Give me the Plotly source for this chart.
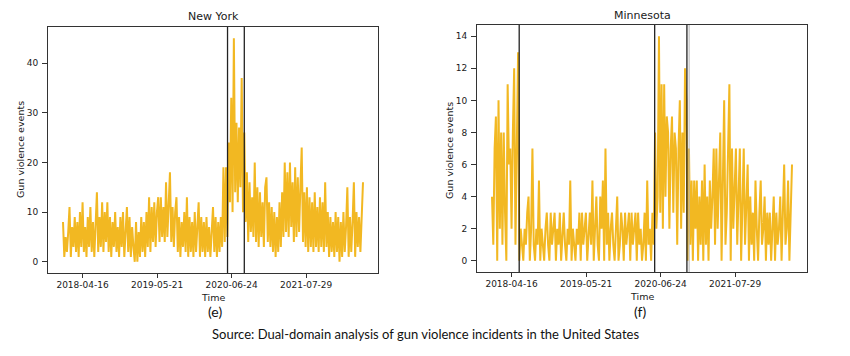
import pandas as pd
import plotly.graph_objects as go

# ---------------- data (weekly readings from the picture) ----------------
start_date = "2018-01-01"
step_days = 7

ny_values = [
    8, 1, 5, 2, 6, 11, 1, 7, 3, 9,
    2, 8, 1, 10, 3, 12, 2, 7, 1, 9,
    3, 11, 2, 8, 1, 10, 14, 2, 9, 3,
    12, 2, 10, 4, 12, 2, 9, 1, 8, 3,
    10, 2, 7, 1, 9, 3, 10, 1, 8, 11,
    2, 9, 1, 7, 3, 0, 8, 0, 6, 1,
    9, 2, 8, 1, 10, 3, 13, 2, 11, 4,
    12, 3, 10, 13, 4, 13, 5, 11, 4, 16,
    5, 12, 18, 4, 11, 3, 10, 13, 2, 9,
    1, 8, 3, 10, 2, 13, 1, 9, 2, 8,
    1, 10, 2, 7, 12, 1, 9, 2, 8, 1,
    9, 2, 7, 1, 8, 11, 2, 9, 1, 8,
    2, 9, 3, 19, 4, 19, 5, 24, 12, 33,
    10, 45, 14, 28, 12, 27, 15, 37, 10, 26,
    8, 18, 4, 16, 6, 13, 5, 20, 4, 15,
    3, 14, 5, 12, 3, 15, 17, 4, 12, 3,
    11, 2, 10, 1, 9, 2, 12, 3, 14, 5,
    20, 6, 18, 5, 20, 7, 16, 4, 19, 5,
    17, 6, 15, 23, 4, 14, 3, 15, 2, 13,
    3, 12, 2, 14, 3, 11, 2, 13, 3, 12,
    2, 16, 3, 10, 1, 9, 2, 8, 1, 10,
    2, 9, 0, 8, 1, 10, 2, 7, 15, 1,
    9, 2, 8, 16, 1, 10, 3, 9, 2, 8,
    16,
]

mn_values = [
    4, 1, 7, 9, 0, 10, 2, 8, 1, 8,
    3, 0, 11, 6, 7, 2, 8, 12, 1, 7,
    13, 0, 2, 1, 0, 2, 1, 3, 4, 0,
    2, 7, 1, 0, 2, 1, 5, 0, 2, 1,
    0, 2, 3, 1, 0, 3, 1, 2, 3, 0,
    2, 1, 3, 0, 2, 3, 1, 0, 2, 1,
    5, 0, 2, 1, 0, 2, 1, 3, 0, 3,
    1, 2, 3, 0, 2, 3, 1, 5, 0, 2,
    4, 1, 0, 4, 2, 5, 0, 7, 1, 3,
    0, 2, 3, 1, 0, 2, 4, 0, 1, 3,
    2, 0, 3, 1, 2, 3, 0, 3, 1, 2,
    3, 0, 3, 1, 2, 0, 1, 3, 0, 5,
    1, 2, 0, 3, 1, 8, 2, 4, 14, 3,
    11, 2, 11, 4, 9, 8, 2, 7, 9, 3,
    8, 7, 1, 7, 10, 2, 8, 3, 12, 10,
    0, 7, 1, 5, 0, 5, 2, 5, 0, 4,
    1, 5, 0, 6, 1, 4, 0, 5, 2, 4,
    7, 1, 7, 2, 6, 8, 0, 4, 10, 1,
    3, 7, 11, 0, 7, 2, 4, 7, 1, 5,
    7, 0, 4, 7, 1, 3, 6, 0, 4, 1,
    3, 0, 5, 2, 0, 3, 5, 1, 2, 4,
    0, 3, 1, 3, 0, 2, 4, 0, 3, 1,
    2, 4, 0, 3, 6, 1, 2, 5, 0, 3,
    6,
]

ny_change_points = ["2020-06-02", "2020-08-31"]
mn_change_points = ["2018-05-27", "2020-05-23", "2020-11-12"]
mn_grey_points = ["2020-11-24"]

x_tick_vals = ["2018-04-16", "2019-05-21", "2020-06-24", "2021-07-29"]
x_tick_text = ["2018-04-16", "2019-05-21", "2020-06-24", "2021-07-29"]
ny_y_ticks = [0, 10, 20, 30, 40]
mn_y_ticks = [0, 2, 4, 6, 8, 10, 12, 14]

panel_titles = ["New York", "Minnesota"]
panel_letters = ["(e)", "(f)"]
source_text = "Source: Dual-domain analysis of gun violence incidents in the United States"

# ---------------- figure ----------------
W, H = 850, 356
LINE = "#F2B822"
FONT = "DejaVu Sans"

ny_dates = pd.date_range(start_date, periods=len(ny_values), freq=f"{step_days}D")
mn_dates = pd.date_range(start_date, periods=len(mn_values), freq=f"{step_days}D")


def padded(dates, frac=0.05):
    span = dates[-1] - dates[0]
    return [dates[0] - span * frac, dates[-1] + span * frac]


def ypad(vals, frac=0.05):
    lo, hi = min(vals), max(vals)
    span = hi - lo
    return [lo - span * frac, hi + span * frac]


fig = go.Figure()
fig.add_trace(go.Scatter(x=ny_dates, y=ny_values, mode="lines",
                         line=dict(color=LINE, width=2.0), xaxis="x", yaxis="y",
                         showlegend=False, hoverinfo="skip"))
fig.add_trace(go.Scatter(x=mn_dates, y=mn_values, mode="lines",
                         line=dict(color=LINE, width=2.0), xaxis="x2", yaxis="y2",
                         showlegend=False, hoverinfo="skip"))


def px_x(p):
    return p / W


def px_y(p):
    return 1 - p / H


axis_common = dict(showgrid=False, zeroline=False, showline=True, mirror=True,
                   linecolor="#333333", linewidth=1, ticks="outside",
                   tickwidth=0.8, tickcolor="#333333",
                   tickfont=dict(family=FONT, size=9, color="#1a1a1a"))
x_common = dict(ticklen=3.5, ticklabelstandoff=0, **axis_common)
y_common = dict(ticklen=5, ticklabelstandoff=2, **axis_common)

fig.update_layout(
    width=W, height=H, margin=dict(l=0, r=0, t=0, b=0),
    paper_bgcolor="white", plot_bgcolor="white",
    xaxis=dict(domain=[px_x(48), px_x(378)], range=padded(ny_dates), type="date",
               tickvals=x_tick_vals, ticktext=x_tick_text, anchor="y", **x_common),
    yaxis=dict(domain=[px_y(273), px_y(27)], range=ypad(ny_values),
               tickvals=ny_y_ticks, anchor="x", **y_common),
    xaxis2=dict(domain=[px_x(477), px_x(807)], range=padded(mn_dates), type="date",
                tickvals=x_tick_vals, ticktext=x_tick_text, anchor="y2", **x_common),
    yaxis2=dict(domain=[px_y(272), px_y(25)], range=ypad(mn_values),
                tickvals=mn_y_ticks, anchor="x2", **y_common),
)

shapes = []
for d in ny_change_points:
    shapes.append(dict(type="line", xref="x", yref="y domain", x0=d, x1=d, y0=0, y1=1,
                       line=dict(color="#222222", width=1.3)))
for d in mn_change_points:
    shapes.append(dict(type="line", xref="x2", yref="y2 domain", x0=d, x1=d, y0=0, y1=1,
                       line=dict(color="#222222", width=1.3)))
for d in mn_grey_points:
    shapes.append(dict(type="line", xref="x2", yref="y2 domain", x0=d, x1=d, y0=0, y1=1,
                       line=dict(color="#b5b5b5", width=1)))
fig.update_layout(shapes=shapes)

ann = []


def text(xp, yp, s, size, family=FONT, angle=0, color="#1a1a1a"):
    ann.append(dict(xref="paper", yref="paper", x=px_x(xp), y=px_y(yp), text=s,
                    showarrow=False, xanchor="center", yanchor="middle", textangle=angle,
                    font=dict(family=family, size=size, color=color)))


text(213, 16, panel_titles[0], 11)
text(642, 15, panel_titles[1], 11)
text(213, 297, "Time", 9.5)
text(642, 296, "Time", 9.5)
text(20, 150, "Gun violence events", 9.5, angle=-90)
text(449, 150, "Gun violence events", 9.5, angle=-90)
text(215, 311, panel_letters[0], 14, family="Lato", color="#111111")
text(640, 311, panel_letters[1], 14, family="Lato", color="#111111")
text(425, 334, source_text, 13, family="Lato", color="#111111")
fig.update_layout(annotations=ann)

fig.write_html("out.html", config={"displayModeBar": False},
               post_script="document.body.style.margin='0';document.body.style.padding='0';")
